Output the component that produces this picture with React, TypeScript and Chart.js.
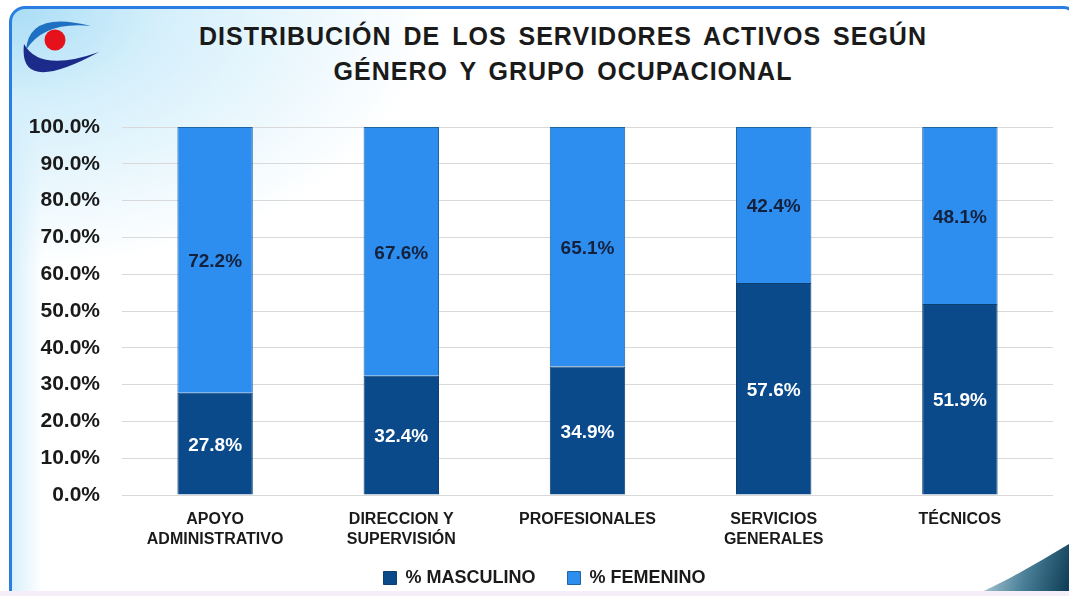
import React, { useEffect, useRef } from "react";
import { Chart, registerables } from "chart.js";

Chart.register(...registerables);

const categories: (string | string[])[] = [
  ["APOYO", "ADMINISTRATIVO"],
  ["DIRECCION Y", "SUPERVISIÓN"],
  "PROFESIONALES",
  ["SERVICIOS", "GENERALES"],
  "TÉCNICOS",
];
const masculino = [27.8, 32.4, 34.9, 57.6, 51.9];
const femenino = [72.2, 67.6, 65.1, 42.4, 48.1];
const seriesNames = ["% MASCULINO", "% FEMENINO"];
const titleLines = ["DISTRIBUCIÓN DE LOS SERVIDORES ACTIVOS SEGÚN", "GÉNERO Y GRUPO OCUPACIONAL"];

const FONT = "'Liberation Sans', Arial, sans-serif";

const dataLabels = {
  id: "dataLabels",
  afterDatasetsDraw(chart: any) {
    const ctx = chart.ctx;
    ctx.save();
    ctx.font = `bold 19px ${FONT}`;
    ctx.textAlign = "center";
    ctx.textBaseline = "middle";
    chart.data.datasets.forEach((ds: any, di: number) => {
      const meta = chart.getDatasetMeta(di);
      ctx.fillStyle = di === 0 ? "#ffffff" : "#14213d";
      meta.data.forEach((el: any, i: number) => {
        const p = el.getCenterPoint();
        ctx.fillText(Number(ds.data[i]).toFixed(1) + "%", p.x, p.y + 2);
      });
    });
    ctx.restore();
  },
};

// moves the legend row up so it sits just under the two-line category labels
const legendShift = {
  id: "legendShift",
  afterLayout(chart: any) {
    const lg = chart.legend;
    if (lg) {
      lg.top -= 18;
      lg.bottom = lg.top + 62;
      lg.height = 62;
      lg.left += 26;
    }
  },
};

function Logo() {
  return (
    <svg width="110" height="80" viewBox="0 0 110 80" style={{ position: "absolute", left: 0, top: 0 }}>
      <path d="M 26 50 Q 29 10 91 26 Q 44 21 26 50 Z" fill="#1e70c2" />
      <path d="M 24 44 Q 18 96 99 52 Q 40 73 24 44 Z" fill="#1c2a8a" />
      <circle cx="55" cy="40" r="10.5" fill="#e5121c" />
    </svg>
  );
}

export default function App() {
  const ref = useRef<HTMLCanvasElement>(null);
  useEffect(() => {
    if (!ref.current) return;
    const chart = new Chart(ref.current, {
      type: "bar",
      data: {
        labels: categories,
        datasets: [
          {
            label: seriesNames[0],
            data: masculino,
            backgroundColor: "#0a4a8a",
            borderColor: "#0d3f70",
            borderWidth: 1,
          },
          {
            label: seriesNames[1],
            data: femenino,
            backgroundColor: "#2e8ef0",
            borderColor: "#1f65a0",
            borderWidth: 1,
          },
        ],
      },
      options: {
        animation: false,
        responsive: false,
        maintainAspectRatio: false,
        layout: { padding: { left: 10, right: 16, top: 127, bottom: 2 } },
        datasets: { bar: { categoryPercentage: 1, barPercentage: 0.405 } },
        scales: {
          x: {
            stacked: true,
            grid: { display: false },
            border: { display: false },
            ticks: {
              color: "#1a1a1a",
              font: { family: FONT, weight: "bold", size: 16, lineHeight: 1.25 },
              padding: 7,
              maxRotation: 0,
              autoSkip: false,
            },
            afterFit(scale: any) {
              scale.height = 60;
            },
          },
          y: {
            stacked: true,
            min: 0,
            max: 100,
            grid: { color: "#d9d9d9", drawTicks: false, lineWidth: 1 },
            border: { display: false },
            ticks: {
              stepSize: 10,
              color: "#1a1a1a",
              padding: 22,
              font: { family: FONT, weight: "bold", size: 21 },
              callback: (v: any) => Number(v).toFixed(1) + "%",
            },
            afterFit(scale: any) {
              scale.width = 112;
            },
          },
        },
        plugins: {
          title: { display: false },
          tooltip: { enabled: false },
          legend: {
            position: "bottom",
            maxHeight: 39,
            labels: {
              boxWidth: 13,
              boxHeight: 13,
              padding: 32,
              color: "#1a1a1a",
              font: { family: FONT, weight: "bold", size: 18 },
            },
          },
        },
      },
      plugins: [dataLabels, legendShift],
    });
    return () => chart.destroy();
  }, []);

  return (
    <div style={{ position: "fixed", left: 0, top: 0, width: 1069, height: 596, background: "#ffffff", overflow: "hidden" }}>
      <div
        style={{
          position: "absolute",
          left: 9,
          top: 6,
          width: 1064,
          height: 610,
          border: "3px solid #2a7de1",
          borderRadius: 16,
          background:
            "radial-gradient(ellipse 420px 260px at 0% 0%, #a9ddf6 0%, #d4effb 35%, rgba(255,255,255,0) 100%), linear-gradient(90deg, #d8f0fb 0px, #ffffff 30px)",
        }}
      />
      <div
        style={{
          position: "absolute",
          left: 930,
          top: 536,
          width: 139,
          height: 60,
          clipPath: "polygon(44px 60px, 80px 42px, 112px 24px, 139px 8px, 139px 60px)",
          background: "linear-gradient(105deg, rgba(255,255,255,0) 22%, #a9c6d3 42%, #4a8098 68%, #0b3a52 100%)",
        }}
      />
      <div style={{ position: "absolute", left: 0, top: 591, width: 1069, height: 5, background: "#f5eef8" }} />
      <Logo />
      <div
        style={{
          position: "absolute",
          left: 163,
          top: 19,
          width: 800,
          textAlign: "center",
          fontFamily: FONT,
          fontWeight: "bold",
          fontSize: 25,
          lineHeight: "35px",
          color: "#1a1a1a",
          letterSpacing: 1,
          wordSpacing: 4,
        }}
      >
        {titleLines.map((t, i) => (
          <div key={i}>{t}</div>
        ))}
      </div>
      <canvas ref={ref} width={1069} height={596} style={{ position: "absolute", left: 0, top: 0 }} />
    </div>
  );
}
